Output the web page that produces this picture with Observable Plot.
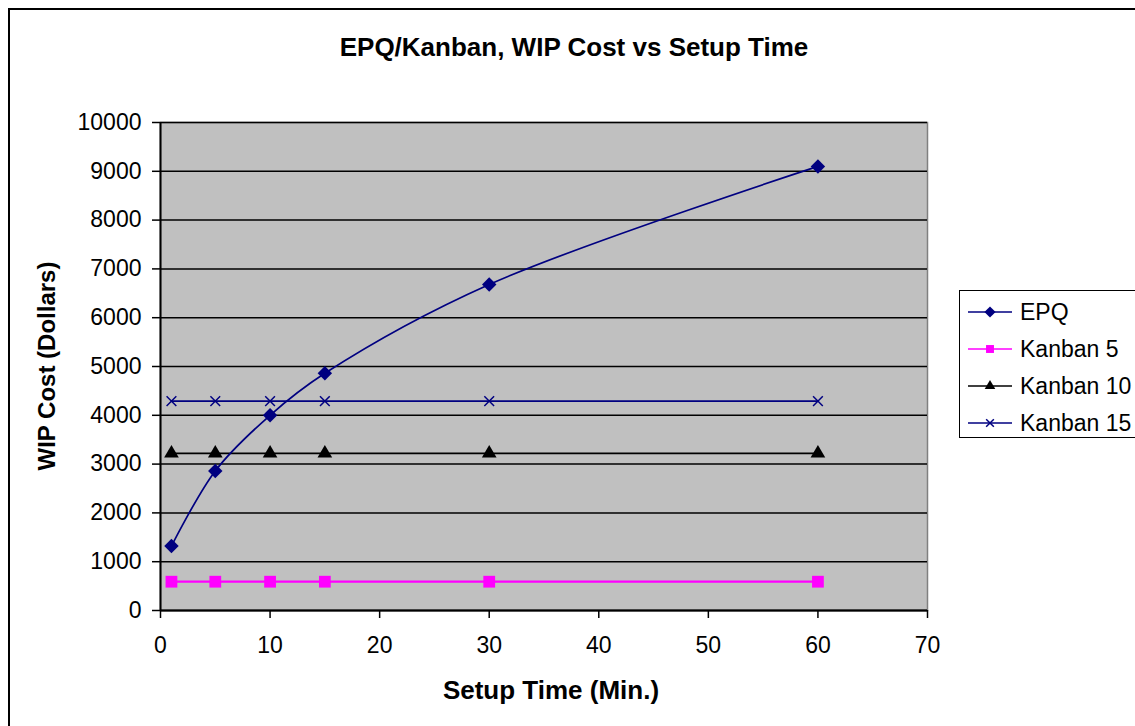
<!DOCTYPE html>
<html><head><meta charset="utf-8">
<script src="https://cdn.jsdelivr.net/npm/d3@7"></script>
<script src="https://cdn.jsdelivr.net/npm/@observablehq/plot@0.6"></script>
<style>
body{margin:0;background:#fff;font-family:Arial,"Liberation Sans",sans-serif}
#wrap{position:relative;width:1135px;height:726px;overflow:hidden;background:#fff}
#border{position:absolute;left:8px;top:8px;width:1150px;height:760px;border:2.5px solid #000;box-sizing:border-box}
#chart{position:absolute;left:0;top:0}
.t{position:absolute;font-weight:bold;color:#000;white-space:nowrap}
#title{left:574px;top:47px;transform:translate(-50%,-50%);font-size:26px}
#xlabel{left:551px;top:690px;transform:translate(-50%,-50%);font-size:26px}
#ylabel{left:47px;top:366px;transform:translate(-50%,-50%) rotate(-90deg);font-size:24px}
#legend{position:absolute;left:959px;top:290px;width:200px;height:148px;border:1.5px solid #000;box-sizing:border-box;background:#fff}
</style></head>
<body>
<div id="wrap">
  <div id="border"></div>
  <div id="chart"></div>
  <div class="t" id="title">EPQ/Kanban, WIP Cost vs Setup Time</div>
  <div class="t" id="xlabel">Setup Time (Min.)</div>
  <div class="t" id="ylabel">WIP Cost (Dollars)</div>
  <div id="legend"></div>
</div>
<script>
const setupTimes = [1, 5, 10, 15, 30, 60];
const epq      = [1320, 2860, 4000, 4860, 6680, 9100];
const kanban5  = [590, 590, 590, 590, 590, 590];
const kanban10 = [3220, 3220, 3220, 3220, 3220, 3220];
const kanban15 = [4290, 4290, 4290, 4290, 4290, 4290];
const seriesNames = ["EPQ", "Kanban 5", "Kanban 10", "Kanban 15"];
const seriesColors = ["#000080", "#FF00FF", "#000000", "#000080"];
const seriesSymbols = ["diamond2", "square2", "triangle2", "times"];
const xTicks = [0, 10, 20, 30, 40, 50, 60, 70];
const yTicks = [0, 1000, 2000, 3000, 4000, 5000, 6000, 7000, 8000, 9000, 10000];

const seriesValues = [epq, kanban5, kanban10, kanban15];
const rows = [];
seriesNames.forEach((name, i) => {
  setupTimes.forEach((t, j) => rows.push({series: name, x: t, y: seriesValues[i][j]}));
});

const font = "Arial, 'Liberation Sans', sans-serif";
const plot = Plot.plot({
  width: 1135, height: 726,
  marginLeft: 160, marginRight: 208, marginTop: 122, marginBottom: 116,
  style: {fontFamily: font, fontSize: "18px", background: "transparent", color: "#000"},
  x: {domain: [0, 70], label: null},
  y: {domain: [0, 10000], label: null},
  color: {domain: seriesNames, range: seriesColors},
  marks: [
    Plot.frame({fill: "#C0C0C0", stroke: "#808080", strokeWidth: 1.5}),
    Plot.gridY(yTicks, {stroke: "#000", strokeOpacity: 1, strokeWidth: 1.5}),
    Plot.axisX(xTicks, {tickSize: 8, tickPadding: 18, fontSize: 23, tickFormat: d => String(d), strokeWidth: 1.5}),
    Plot.axisY(yTicks, {tickSize: 8, tickPadding: 11, fontSize: 23, tickFormat: d => String(d), strokeWidth: 1.5}),
    Plot.ruleX([0], {stroke: "#000", strokeWidth: 2}),
    Plot.ruleY([0], {stroke: "#000", strokeWidth: 2}),
    Plot.line(rows.filter(d => d.series === "Kanban 5"), {x: "x", y: "y", stroke: "series", strokeWidth: 2.2}),
    Plot.line(rows.filter(d => d.series === "Kanban 10" || d.series === "Kanban 15"), {x: "x", y: "y", z: "series", stroke: "series", strokeWidth: 1.6}),
    Plot.line(rows.filter(d => d.series === "EPQ"), {x: "x", y: "y", stroke: "series", strokeWidth: 1.7, curve: "catmull-rom"}),
    Plot.dot(rows.filter(d => d.series === "EPQ"), {x: "x", y: "y", fill: "series", symbol: () => "diamond2", r: 6.5}),
    Plot.dot(rows.filter(d => d.series === "Kanban 5"), {x: "x", y: "y", fill: "series", symbol: () => "square2", r: 7.5}),
    Plot.dot(rows.filter(d => d.series === "Kanban 10"), {x: "x", y: "y", fill: "series", symbol: () => "triangle2", r: 7}),
    Plot.dot(rows.filter(d => d.series === "Kanban 15"), {x: "x", y: "y", stroke: "series", symbol: () => "times", r: 4.5, strokeWidth: 1.5})
  ]
});
document.getElementById("chart").appendChild(plot);

// Legend
const lg = d3.select("#legend").append("svg").attr("width", 200).attr("height", 148);
const sym = {
  diamond2: d3.symbolDiamond2, square2: d3.symbolSquare2, triangle2: d3.symbolTriangle2, times: d3.symbolTimes
};
seriesNames.forEach((name, i) => {
  const cy = 21 + i * 37;
  const g = lg.append("g");
  g.append("line").attr("x1", 8).attr("x2", 52).attr("y1", cy).attr("y2", cy)
    .attr("stroke", seriesColors[i]).attr("stroke-width", 1.5);
  const s = seriesSymbols[i];
  const p = g.append("path").attr("transform", `translate(30,${cy})`)
    .attr("d", d3.symbol(sym[s], s === "times" ? 40 : 80)());
  if (s === "times") p.attr("fill", "none").attr("stroke", seriesColors[i]).attr("stroke-width", 1.5);
  else p.attr("fill", seriesColors[i]);
  g.append("text").attr("x", 60).attr("y", cy).attr("dy", "0.36em")
    .attr("font-family", font).attr("font-size", 23).text(name);
});
</script>
</body></html>
